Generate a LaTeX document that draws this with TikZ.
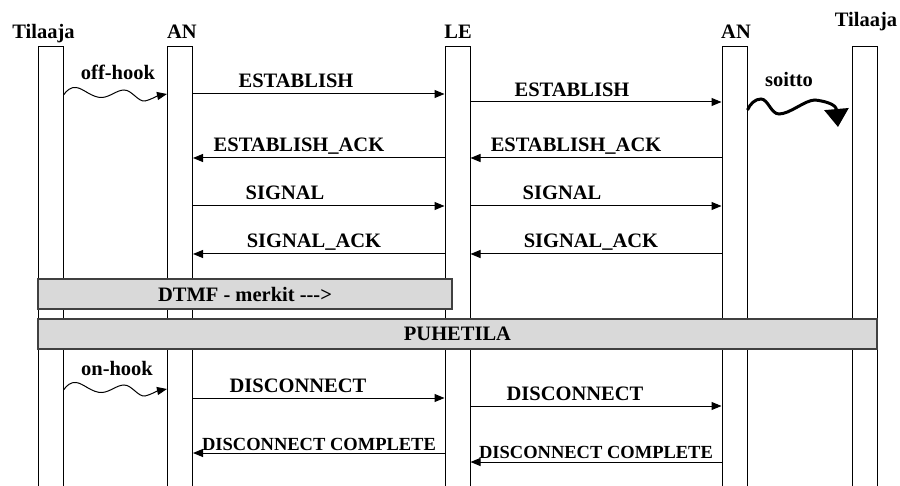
\documentclass[tikz,border=0pt]{standalone}
\usepackage{fontspec}
\setmainfont{Liberation Serif}
\usetikzlibrary{arrows.meta}

\begin{document}

\begin{tikzpicture}[x=1pt,y=-1pt,line width=1pt,
  life/.style={draw,fill=white,rectangle,inner sep=0,minimum width=25pt,minimum height=443pt},
  bar/.style={draw=black!75,fill=black!15,line width=1.3pt,rectangle,inner sep=0,minimum height=30pt,font=\fontsize{20.5}{24}\selectfont\bfseries},
  lbl/.style={anchor=base,inner sep=0,font=\fontsize{20.5}{24}\selectfont\bfseries},
  lblsmall/.style={anchor=base,inner sep=0,font=\fontsize{18.5}{22}\selectfont\bfseries},
  msg/.style={-{Triangle[length=10pt,width=8pt]}},
  wave/.style={-{Triangle[length=10pt,width=8pt]}},
  ring/.style={line width=3pt,-{Triangle[length=18pt,width=24pt]}}]

\useasboundingbox (0,0) rectangle (900,486);

\begin{scope}

\clip (0,0) rectangle (900,486);

\node [life] (tl1) at (50.5,268.5) {};

\node [life] (an1) at (180,268.5) {};

\node [life] (le) at (457.5,268.5) {};

\node [life] (an2) at (734.5,268.5) {};

\node [life] (tl2) at (864.5,268.5) {};

\end{scope}

\node [lbl] (tl1name) at (43.5,39) {Tilaaja};

\node [lbl] (an1name) at (182,39) {AN};

\node [lbl] (lename) at (458,39) {LE};

\node [lbl] (an2name) at (736,39) {AN};

\node [lbl] (tl2name) at (866,26.5) {Tilaaja};

\node [bar,minimum width=414pt] (dtmf) at (245,294) {DTMF - merkit -\kern0pt-\kern0pt->};

\node [bar,minimum width=839pt] (puhe) at (457.5,334) {PUHETILA};

\draw [wave] (tl1.east |- 0,95) .. controls (67,90) and (71,87) .. (76,87.5) .. controls (83,88) and (92,98) .. (102,97.5) .. controls (110,97) and (117,90) .. (124,90) .. controls (132,90) and (138,102) .. (145,101) .. controls (150,100) and (157,96) .. (an1.west |- 0,94);

\node [lbl] (offhook) at (118,80) {off-hook};

\draw [ring] (an2.east |- 0,110) .. controls (750,104) and (755,99) .. (761,99) .. controls (768,99) and (771,114) .. (779,114) .. controls (790,114) and (805,100) .. (815,100) .. controls (824,101) and (836,104) .. (838,127);

\node [lbl] (soitto) at (789,87) {soitto};

\draw [msg] (an1.east |- 0,94) -- (le.west |- 0,94);

\node [lbl] (est1) at (296,88) {ESTABLISH};

\draw [msg] (le.east |- 0,102) -- (an2.west |- 0,102);

\node [lbl] (est2) at (572,97) {ESTABLISH};

\draw [msg] (le.west |- 0,158) -- (an1.east |- 0,158);

\node [lbl] (eack1) at (299,152) {ESTABLISH\_ACK};

\draw [msg] (an2.west |- 0,158) -- (le.east |- 0,158);

\node [lbl] (eack2) at (576,152) {ESTABLISH\_ACK};

\draw [msg] (an1.east |- 0,206) -- (le.west |- 0,206);

\node [lbl] (sig1) at (285,200) {SIGNAL};

\draw [msg] (le.east |- 0,206) -- (an2.west |- 0,206);

\node [lbl] (sig2) at (562,200) {SIGNAL};

\draw [msg] (le.west |- 0,254) -- (an1.east |- 0,254);

\node [lbl] (sack1) at (314,248) {SIGNAL\_ACK};

\draw [msg] (an2.west |- 0,254) -- (le.east |- 0,254);

\node [lbl] (sack2) at (591,248) {SIGNAL\_ACK};

\draw [wave] (tl1.east |- 0,390) .. controls (67,385) and (71,382) .. (76,382.5) .. controls (83,383) and (92,393) .. (102,392.5) .. controls (110,392) and (117,385) .. (124,385) .. controls (132,385) and (138,397) .. (145,396) .. controls (150,395) and (157,391) .. (an1.west |- 0,389);

\node [lbl] (onhook) at (117,376) {on-hook};

\draw [msg] (an1.east |- 0,398) -- (le.west |- 0,398);

\node [lbl] (disc1) at (298,392) {DISCONNECT};

\draw [msg] (le.east |- 0,406) -- (an2.west |- 0,406);

\node [lbl] (disc2) at (575,400) {DISCONNECT};

\draw [msg] (le.west |- 0,453) -- (an1.east |- 0,453);

\node [lblsmall] (dcomp1) at (319,450) {DISCONNECT COMPLETE};

\draw [msg] (an2.west |- 0,462) -- (le.east |- 0,462);

\node [lblsmall] (dcomp2) at (596,458) {DISCONNECT COMPLETE};

\end{tikzpicture}

\end{document}
